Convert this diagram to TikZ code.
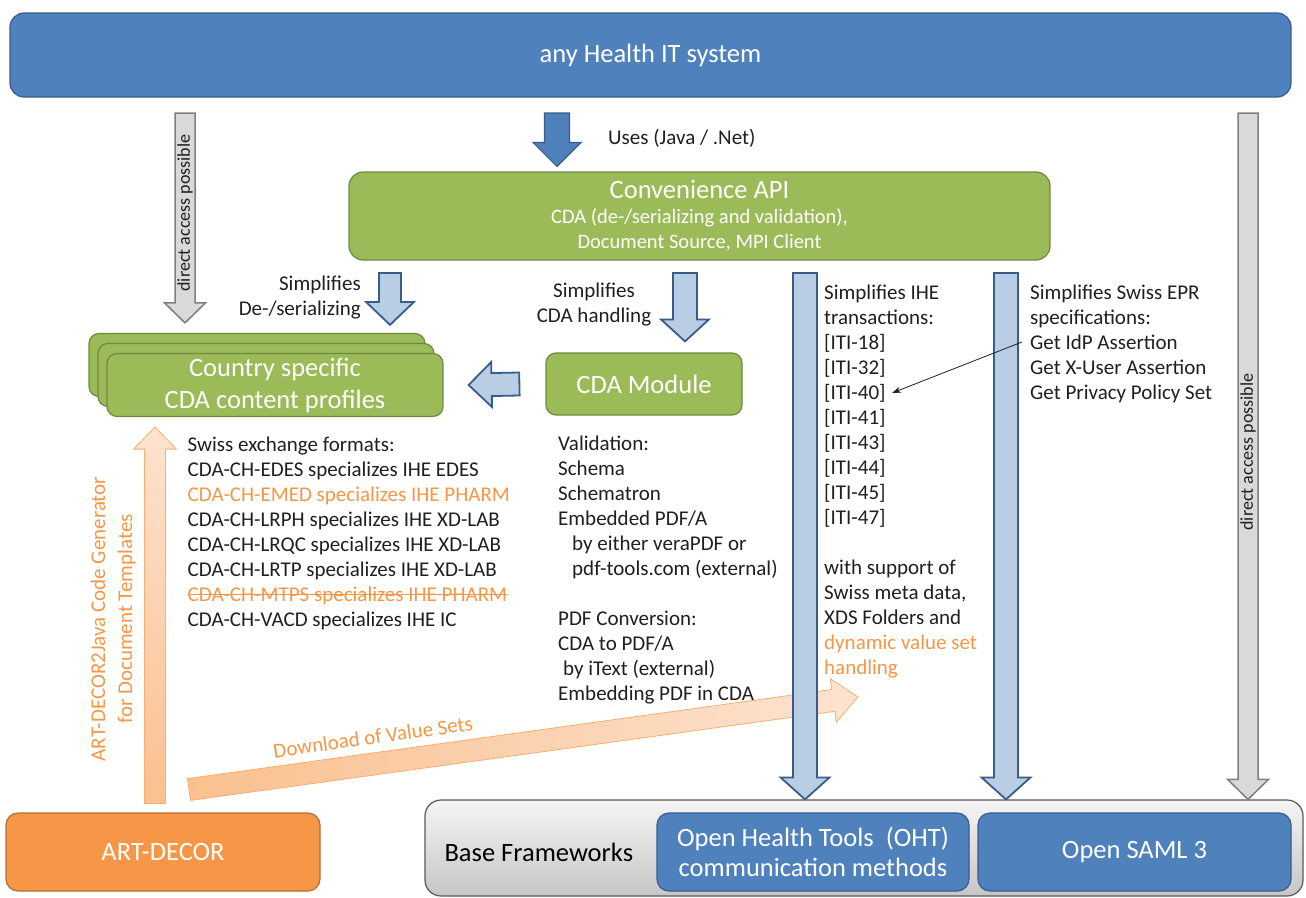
\documentclass[tikz,border=0pt]{standalone}
\usepackage{fontspec}
\setmainfont{Carlito}
\usepackage{tikz}
\usetikzlibrary{arrows.meta, calc}

\definecolor{hitblue}{HTML}{4F81BD}
\definecolor{hitblueline}{HTML}{385D8A}
\definecolor{apigreen}{HTML}{9BBB59}
\definecolor{apigreenline}{HTML}{71893F}
\definecolor{lightblue}{HTML}{B9CDE5}
\definecolor{accessgray}{HTML}{D9D9D9}
\definecolor{accessline}{HTML}{7F7F7F}
\definecolor{decororange}{HTML}{F79646}
\definecolor{decorline}{HTML}{B66D31}
\definecolor{peach}{HTML}{FAC090}
\definecolor{peachlight}{HTML}{FDE3CF}
\definecolor{peachline}{HTML}{F7AE74}
\definecolor{txt}{HTML}{1F1F1F}

% block arrow: style, from, to, half shaft, half head, head length
\newcommand{\blockarrow}[6]{%
  \coordinate (ba) at ($#3!#6!#2$);
  \draw[#1] ($#2!#4!90:#3$) -- ($(ba)!#4!90:#3$) -- ($(ba)!#5!90:#3$) -- #3
    -- ($(ba)!#5!-90:#3$) -- ($(ba)!#4!-90:#3$) -- ($#2!#4!-90:#3$) -- cycle;
}
% struck-out text
\newsavebox{\strikebox}
\newcommand{\strikeline}[1]{\sbox{\strikebox}{#1}\rlap{\rule[0.3em]{\wd\strikebox}{0.9pt}}\usebox{\strikebox}}

\begin{document}
\begin{tikzpicture}[x=1pt, y=-1pt,
    panel/.style={draw, rounded corners=12pt, line width=1.2pt, text=white, align=center},
    bluebox/.style={panel, fill=hitblue, draw=hitblueline},
    greenbox/.style={panel, fill=apigreen, draw=apigreenline},
    bluearrow/.style={fill=hitblue, draw=hitblueline, line width=1.2pt},
    lightarrow/.style={fill=lightblue, draw=hitblueline, line width=1.8pt},
    grayarrow/.style={fill=accessgray, draw=accessline, line width=1.5pt},
    peacharrow/.style={draw=peachline, line width=0.8pt},
    headfont/.style={font=\fontsize{26.5}{32}\selectfont},
    bodyfont/.style={font=\fontsize{21}{25}\selectfont, text=txt, inner sep=0pt},
    listtext/.style={bodyfont, align=left, anchor=north west}]
\useasboundingbox (0,0) rectangle (1306,897);

% boxes
\node[bluebox, headfont, minimum width=1281pt, minimum height=84pt, rounded corners=14pt] (his) at (650.5,55) {any Health IT system};
\node[greenbox, minimum width=701pt, minimum height=88pt, rounded corners=14pt, font=\fontsize{20.5}{25}\selectfont] (api) at (699.5,216)
  {{\fontsize{26.5}{28}\selectfont Convenience API}\\CDA (de-/serializing and validation),\\Document Source, MPI Client};
\foreach \dx/\dy/\n in {18/20/country3, 9/10/country2}
  \node[greenbox, minimum width=336pt, minimum height=63pt, rounded corners=10pt] (\n) at (275-\dx,385-\dy) {};
\node[greenbox, headfont, minimum width=336pt, minimum height=63pt, rounded corners=10pt] (country) at (275,385) {Country specific\\CDA content profiles};
\node[greenbox, headfont, minimum width=196pt, minimum height=62pt, rounded corners=10pt] (cdamod) at (644,384) {CDA Module};
\node[panel, headfont, fill=decororange, draw=decorline, minimum width=314pt, minimum height=78pt] (art) at (163,852) {ART-DECOR};
\node[panel, top color=gray!8, bottom color=gray!45, draw=black!65, minimum width=878pt, minimum height=96pt, rounded corners=16pt] (base) at (864,848) {};
\node[headfont, text=black, anchor=west] (basetxt) at (441,852) {Base Frameworks};
\node[bluebox, minimum width=312pt, minimum height=78pt, font=\fontsize{26.5}{30}\selectfont] (oht) at (813,852) {Open Health Tools~~(OHT)\\communication methods};
\node[bluebox, headfont, minimum width=313pt, minimum height=78pt] (saml) at (1134.5,852) {Open SAML 3};

% arrow ends
\coordinate (u1) at (557,113);
\coordinate (u2) at ($(api.north -| u1)+(0,-5)$);
\coordinate (g1) at (185,113);
\coordinate (g2) at ($(country3.north -| g1)+(0,-10)$);
\coordinate (r1) at (1248,113);
\coordinate (r2) at (base.north -| r1);
\coordinate (d1) at (390,273);
\coordinate (d2) at ($(country3.north -| d1)+(0,-8)$);
\coordinate (h1) at (685,273);
\coordinate (h2) at ($(cdamod.north -| h1)+(0,-11)$);
\coordinate (l1) at ($(cdamod.west)+(-26,0)$);
\coordinate (l2) at ($(country.east)+(25,0)$);
\coordinate (i1) at (805,273);
\coordinate (i2) at (base.north -| i1);
\coordinate (e1) at (1006,273);
\coordinate (e2) at (base.north -| e1);
\coordinate (o1) at ($(art.north -| 155,0)+(0,-9)$);
\coordinate (o2) at ($(country.south -| o1)+(0,10)$);
\coordinate (v1) at (189,789.5);
\coordinate (v2) at (858,697);

% block arrows
\blockarrow{peacharrow, top color=peachlight, bottom color=peach}{(o1)}{(o2)}{10.5pt}{21.5pt}{22pt}
\blockarrow{peacharrow, left color=peach, right color=peachlight}{(v1)}{(v2)}{11pt}{22pt}{25pt}
\blockarrow{bluearrow}{(u1)}{(u2)}{12.5pt}{24pt}{24pt}
\blockarrow{grayarrow}{(g1)}{(g2)}{10pt}{20.5pt}{20pt}
\blockarrow{grayarrow}{(r1)}{(r2)}{10pt}{20.5pt}{20pt}
\blockarrow{lightarrow}{(d1)}{(d2)}{11pt}{24pt}{23pt}
\blockarrow{lightarrow}{(h1)}{(h2)}{12pt}{24pt}{22pt}
\blockarrow{lightarrow}{(l1)}{(l2)}{11.5pt}{22.5pt}{23pt}
\blockarrow{lightarrow}{(i1)}{(i2)}{12pt}{24.5pt}{22pt}
\blockarrow{lightarrow}{(e1)}{(e2)}{12pt}{24.5pt}{22pt}

% labels
\node[bodyfont, anchor=west] (uses) at (608,138) {Uses (Java / .Net)};
\node[bodyfont, align=right, anchor=north east] (deser) at (361,272.5) {\strut Simplifies\\De-/serializing};
\node[bodyfont, align=center, anchor=north] (handl) at (594,279.5) {\strut Simplifies\\CDA handling};
\node[font=\fontsize{18}{20}\selectfont, text=txt, rotate=90] (dap1) at (185,213) {direct access possible};
\node[font=\fontsize{18}{20}\selectfont, text=txt, rotate=90] (dap2) at (1248,452) {direct access possible};
\node[font=\fontsize{21}{27}\selectfont, text=decororange, rotate=90, align=center] (gen) at (113,619)
  {ART-DECOR2Java Code Generator\\for Document Templates};
\node[font=\fontsize{21}{25}\selectfont, text=decororange, rotate=8] (vsets) at (373,737) {Download of Value Sets};

% lists
\node[listtext] (swiss) at (187.5,433.5) {\strut Swiss exchange formats:\\
  CDA-CH-EDES specializes IHE EDES\\
  \textcolor{decororange}{CDA-CH-EMED specializes IHE PHARM}\\
  CDA-CH-LRPH specializes IHE XD-LAB\\
  CDA-CH-LRQC specializes IHE XD-LAB\\
  CDA-CH-LRTP specializes IHE XD-LAB\\
  \textcolor{decororange}{\strikeline{CDA-CH-MTPS specializes IHE PHARM}}\\
  CDA-CH-VACD specializes IHE IC};
\node[listtext] (valid) at (558,432.5) {\strut Validation:\\
  Schema\\
  Schematron\\
  Embedded PDF/A\\
  \hspace*{14pt}by either veraPDF or\\
  \hspace*{14pt}pdf-tools.com (external)\\[25pt]
  PDF Conversion:\\
  CDA to PDF/A\\
  \hspace*{5pt}by iText (external)\\
  Embedding PDF in CDA};
\node[listtext] (iti) at (824,281.5) {\strut Simplifies IHE\\
  transactions:\\
  {[ITI-18]}\\
  {[ITI-32]}\\
  {[ITI-40]}\\
  {[ITI-41]}\\
  {[ITI-43]}\\
  {[ITI-44]}\\
  {[ITI-45]}\\
  {[ITI-47]}\\[25pt]
  with support of\\
  Swiss meta data,\\
  XDS Folders and\\
  \textcolor{decororange}{dynamic value set}\\
  \textcolor{decororange}{handling}};
\node[listtext] (epr) at (1030,281.5) {\strut Simplifies Swiss EPR\\
  specifications:\\
  Get IdP Assertion\\
  Get X-User Assertion\\
  Get Privacy Policy Set};

\coordinate (idp) at (1022,342);
\coordinate (iti40) at (892,393);
\draw[-{Stealth[length=9pt,width=6pt]}, line width=0.8pt, txt] (idp) -- (iti40);
\end{tikzpicture}
\end{document}
